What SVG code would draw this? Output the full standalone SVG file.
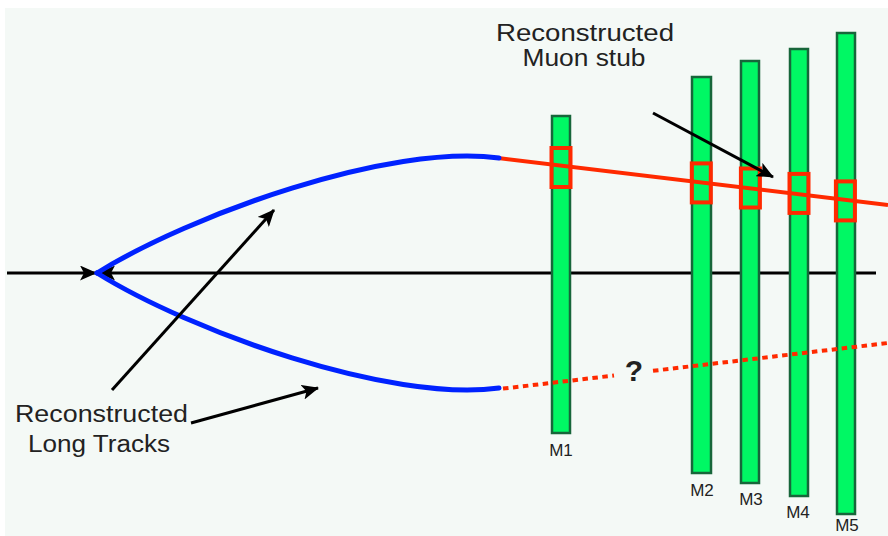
<svg xmlns="http://www.w3.org/2000/svg" width="888" height="536" viewBox="0 0 888 536">
<style>
.bar{fill:#00f864;stroke:#17663a;stroke-width:2.5}
.box{fill:none;stroke:#ff2a00;stroke-width:4}
.lab{font-family:"Liberation Sans",Arial,sans-serif;fill:#222;text-anchor:middle}
.big{font-size:23px}
.ml{font-size:17px}
.arr{stroke:#000;stroke-width:3;fill:none;marker-end:url(#ah)}
.trk{stroke:#0022ff;stroke-width:5;fill:none;stroke-linecap:round}
</style>
<defs>
<marker id="ah" viewBox="0 0 17 15" markerWidth="17" markerHeight="15" refX="16" refY="7.5" orient="auto" markerUnits="userSpaceOnUse">
<path d="M0,0 L17,7.5 L0,15 L4,7.5 z" fill="#000"/>
</marker>
</defs>
<rect x="0" y="0" width="888" height="536" fill="#ffffff"/>
<rect x="5" y="8" width="883" height="528" fill="#f4f9f6"/>
<g id="beam-axis">
<line x1="7" y1="273" x2="96" y2="273" class="arr"/>
<line x1="876" y1="273" x2="99" y2="273" class="arr"/>
</g>
<g id="M1"><rect class="bar" x="552" y="116" width="18" height="317"/><text class="lab ml" x="561" y="456">M1</text></g>
<g id="M2"><rect class="bar" x="692" y="77" width="19" height="396"/><text class="lab ml" x="702" y="496">M2</text></g>
<g id="M3"><rect class="bar" x="741" y="61" width="18" height="422"/><text class="lab ml" x="751" y="505">M3</text></g>
<g id="M4"><rect class="bar" x="790" y="49" width="18" height="447"/><text class="lab ml" x="798" y="518">M4</text></g>
<g id="M5"><rect class="bar" x="837" y="33" width="18" height="481"/><text class="lab ml" x="847" y="531">M5</text></g>
<g id="connectors">
<line x1="498" y1="158" x2="888" y2="205" stroke="#ff2a00" stroke-width="4"/>
<rect class="box" x="551.5" y="148" width="19" height="39"/>
<rect class="box" x="691.8" y="163.4" width="19" height="39"/>
<rect class="box" x="740.9" y="168.5" width="19" height="39"/>
<rect class="box" x="789.5" y="173.9" width="19" height="39"/>
<rect class="box" x="835.9" y="181.4" width="19" height="39"/>
<line x1="503" y1="388.6" x2="614" y2="375.5" stroke="#ff2a00" stroke-width="4" stroke-dasharray="5.5 4.5"/>
<line x1="653" y1="370.8" x2="888" y2="343" stroke="#ff2a00" stroke-width="4" stroke-dasharray="5.5 4.5"/>
<path class="trk" d="M97,273 C190,215 390,143 499,158"/>
<path class="trk" d="M97,273 C190,331 390,403 499,388"/>
<line class="arr" x1="112" y1="390" x2="274" y2="210"/>
<line class="arr" x1="191" y1="423" x2="318" y2="388"/>
<line class="arr" x1="653" y1="113" x2="773" y2="177"/>
</g>
<g id="label-muon-stub">
<text class="lab big" x="585" y="41" textLength="178" lengthAdjust="spacingAndGlyphs">Reconstructed</text>
<text class="lab big" x="584" y="66" textLength="123" lengthAdjust="spacingAndGlyphs">Muon stub</text>
</g>
<g id="label-long-tracks">
<text class="lab big" x="101.5" y="422" textLength="173" lengthAdjust="spacingAndGlyphs">Reconstructed</text>
<text class="lab big" x="99" y="452" textLength="142" lengthAdjust="spacingAndGlyphs">Long Tracks</text>
</g>
<g id="label-question"><text class="lab" x="634" y="381" font-size="30" font-weight="bold" fill="#111">?</text></g>
</svg>
